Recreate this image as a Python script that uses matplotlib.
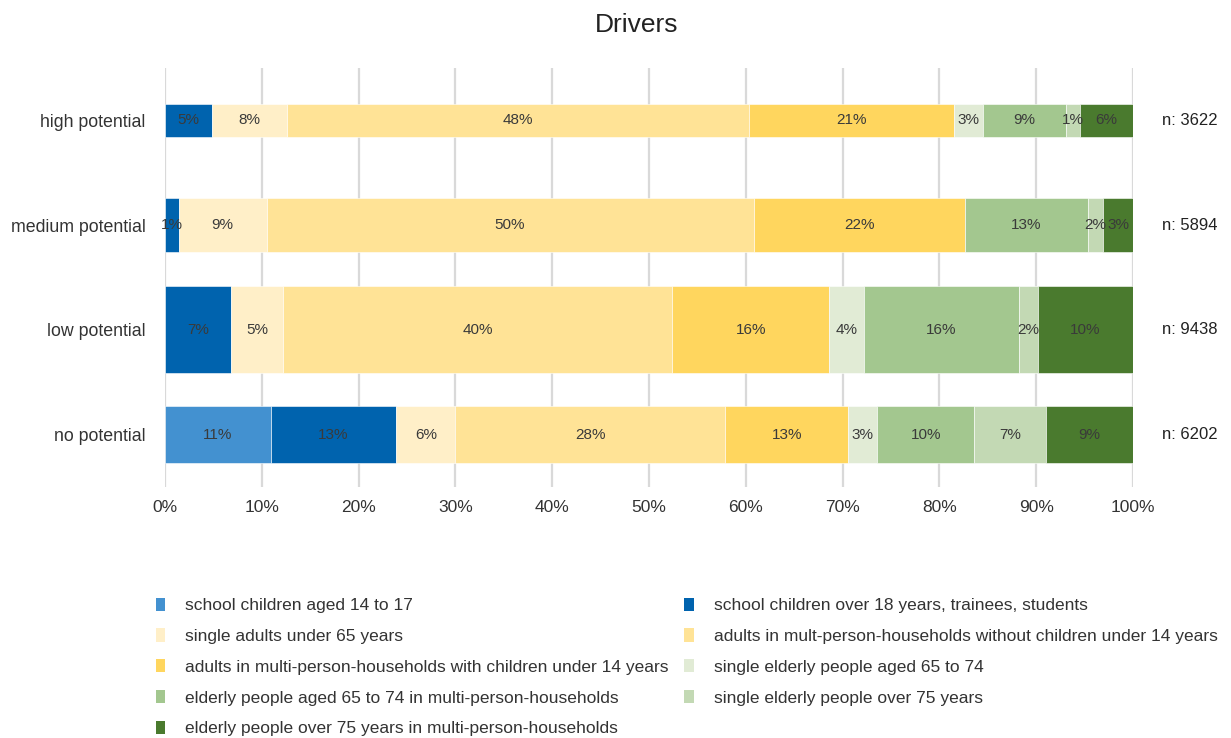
import numpy as np
import matplotlib.pyplot as plt
from matplotlib.patches import Patch

plt.rcParams['font.family'] = ['Liberation Sans', 'DejaVu Sans']

# categories, top to bottom
categories = ['high potential', 'medium potential', 'low potential', 'no potential']
n_values = [3622, 5894, 9438, 6202]

# shares in % per group
school_14_17 = [0.0, 0.0, 0.0, 10.9]
school_18 = [4.9, 1.4, 6.8, 13.0]
single_adults = [7.7, 9.1, 5.4, 6.1]
adults_no_kids = [47.7, 50.3, 40.2, 27.9]
adults_kids = [21.2, 21.8, 16.2, 12.7]
single_65_74 = [3.0, 0.0, 3.6, 3.0]
multi_65_74 = [8.6, 12.7, 16.0, 10.0]
single_75 = [1.4, 1.6, 2.0, 7.4]
multi_75 = [5.5, 3.1, 9.8, 9.0]

series_names = [
    'school children aged 14 to 17',
    'school children over 18 years, trainees, students',
    'single adults under 65 years',
    'adults in mult-person-households without children under 14 years',
    'adults in multi-person-households with children under 14 years',
    'single elderly people aged 65 to 74',
    'elderly people aged 65 to 74 in multi-person-households',
    'single elderly people over 75 years',
    'elderly people over 75 years in multi-person-households',
]
series = [school_14_17, school_18, single_adults, adults_no_kids, adults_kids,
          single_65_74, multi_65_74, single_75, multi_75]
colors = ['#4391d0', '#0063ae', '#ffefc8', '#ffe396', '#ffd65e',
          '#e1ebd5', '#a3c78f', '#c3d9b4', '#4a7a2e']

fig = plt.figure(figsize=(12.31, 7.38), dpi=100)
ax = fig.add_axes([165 / 1231, 1 - 487 / 738, 968 / 1231, 419 / 738])

y = np.arange(len(categories))[::-1]
heights = 0.83 * np.array(n_values) / max(n_values)

left = np.zeros(len(categories))
for vals, col in zip(series, colors):
    vals = np.array(vals)
    ax.barh(y, vals, height=heights, left=left, color=col,
            edgecolor='white', linewidth=0.4, zorder=3)
    for yi, l, v in zip(y, left, vals):
        if v > 0:
            ax.text(l + v / 2, yi, f'{v:.0f}%', ha='center', va='center',
                    fontsize=11, color='#3a3a3a', zorder=4)
    left += vals

# n labels on the right
for yi, n in zip(y, n_values):
    ax.text(1.059, yi, f'n: {n}', transform=ax.get_yaxis_transform(),
            ha='center', va='center', fontsize=12, color='#222222')

ax.set_xlim(0, 100)
ax.set_ylim(-0.5, 3.5)
ax.set_xticks(np.arange(0, 101, 10))
ax.set_xticklabels([f'{t}%' for t in range(0, 101, 10)])
ax.set_yticks(y)
ax.set_yticklabels(categories)
ax.tick_params(axis='x', length=0, labelsize=12.5, labelcolor='#333333', pad=9)
ax.tick_params(axis='y', length=0, labelsize=12.8, labelcolor='#333333', pad=14)
ax.grid(axis='x', color='#d9d9d9', linewidth=1.6, zorder=0)
for s in ax.spines.values():
    s.set_visible(False)

fig.text(0.517, 1 - 25 / 738, 'Drivers', ha='center', va='center',
         fontsize=19, color='#222222')

# legend, row-wise order in two columns
handles = [Patch(facecolor=c, edgecolor='none') for c in colors]
order = [0, 2, 4, 6, 8, 1, 3, 5, 7]
fig.legend([handles[i] for i in order], [series_names[i] for i in order],
           loc='upper left', bbox_to_anchor=(140 / 1231, 1 - 582 / 738),
           ncol=2, frameon=False, fontsize=12.5, handlelength=0.55,
           handleheight=0.8, handletextpad=1.15, labelspacing=0.87,
           columnspacing=0.9, labelcolor='#333333')

fig.savefig('out.png', dpi=100)
